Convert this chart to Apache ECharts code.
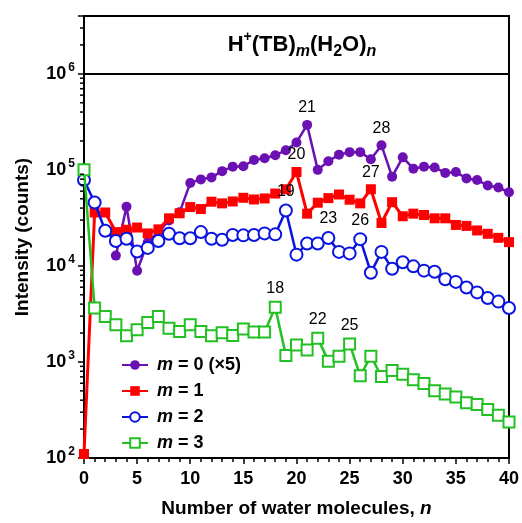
<!DOCTYPE html>
<html>
<head>
<meta charset="utf-8">
<script src="https://cdn.jsdelivr.net/npm/echarts@6.0.0/dist/echarts.min.js"></script>
<style>
  html, body { margin: 0; padding: 0; background: #fff; }
  #main { width: 522px; height: 523px; }
</style>
</head>
<body>
<div id="main"></div>
<script>
var nValues = [0, 1, 2, 3, 4, 5, 6, 7, 8, 9, 10, 11, 12, 13, 14, 15, 16, 17, 18, 19, 20,
  21, 22, 23, 24, 25, 26, 27, 28, 29, 30, 31, 32, 33, 34, 35, 36, 37, 38, 39, 40];

// m = 0, already multiplied by 5 (no points for n = 0..2)
var m0 = [null, null, null, 1.28e4, 4.14e4, 8.9e3, 1.76e4, 2.25e4, 2.97e4, 3.61e4,
  7.31e4, 7.96e4, 8.35e4, 9.7e4, 1.08e5, 1.09e5, 1.27e5, 1.32e5, 1.42e5, 1.6e5,
  1.93e5, 2.94e5, 1.0e5, 1.23e5, 1.44e5, 1.53e5, 1.53e5, 1.29e5, 1.8e5, 8.5e4,
  1.35e5, 1.03e5, 1.08e5, 1.06e5, 9.3e4, 9.5e4, 8.15e4, 7.85e4, 6.86e4, 6.54e4, 5.85e4];
var m1 = [110, 3.6e4, 3.6e4, 2.25e4, 2.38e4, 2.51e4, 2.18e4, 2.4e4, 3.13e4, 3.53e4,
  4.1e4, 3.91e4, 4.66e4, 4.48e4, 4.69e4, 5.12e4, 4.92e4, 5.04e4, 5.67e4, 6.28e4,
  9.5e4, 3.5e4, 4.55e4, 5.08e4, 5.54e4, 4.89e4, 4.48e4, 6.28e4, 2.8e4, 4.61e4,
  3.29e4, 3.5e4, 3.39e4, 3.13e4, 3.13e4, 2.67e4, 2.61e4, 2.34e4, 2.16e4, 1.96e4, 1.77e4];
var m2 = [7.85e4, 4.58e4, 2.32e4, 1.82e4, 1.92e4, 1.41e4, 1.54e4, 1.82e4, 2.16e4, 1.94e4,
  1.94e4, 2.25e4, 1.92e4, 1.87e4, 2.1e4, 2.08e4, 2.1e4, 2.18e4, 2.13e4, 3.77e4,
  1.31e4, 1.71e4, 1.71e4, 1.95e4, 1.4e4, 1.35e4, 1.9e4, 8.5e3, 1.4e4, 9.35e3,
  1.09e4, 9.9e3, 8.93e3, 8.7e3, 7.26e3, 6.82e3, 5.97e3, 5.3e3, 4.63e3, 4.25e3, 3.65e3];
var m3 = [1.0e5, 3.65e3, 2.97e3, 2.44e3, 1.87e3, 2.17e3, 2.58e3, 2.97e3, 2.25e3, 2.08e3,
  2.44e3, 2.08e3, 1.87e3, 2.02e3, 1.89e3, 2.2e3, 2.05e3, 2.05e3, 3.71e3, 1.17e3,
  1.5e3, 1.33e3, 1.77e3, 1.02e3, 1.15e3, 1.54e3, 718, 1.15e3, 706, 813,
  745, 653, 598, 502, 464, 431, 375, 360, 320, 278, 237];

// n values marked with a number above the point
var m0Notes = [21, 28];
var m1Notes = [20, 27];
var m2Notes = [19, 23, 26];
var m3Notes = [18, 22, 25];

var seriesNames = ['m0', 'm1', 'm2', 'm3'];
var legendLabels = {
  m0: '{i|m} = 0 (\u00d75)',
  m1: '{i|m} = 1',
  m2: '{i|m} = 2',
  m3: '{i|m} = 3'
};

// log minor tick positions on the y axis
var yMinorTicks = [200, 300, 400, 500, 600, 700, 800, 900,
  2000, 3000, 4000, 5000, 6000, 7000, 8000, 9000,
  20000, 30000, 40000, 50000, 60000, 70000, 80000, 90000,
  200000, 300000, 400000, 500000, 600000, 700000, 800000, 900000,
  2000000, 3000000];

var FONT = 'Liberation Sans, Arial, sans-serif';

function buildData(values, notes) {
  var out = [];
  for (var i = 0; i < nValues.length; i++) {
    if (values[i] == null) continue;
    var item = { value: [nValues[i], values[i]] };
    if (notes.indexOf(nValues[i]) >= 0) {
      item.label = { show: true, formatter: String(nValues[i]) };
    }
    out.push(item);
  }
  return out;
}

var noteLabel = {
  show: false,
  position: 'top',
  distance: 4,
  color: '#000',
  fontFamily: FONT,
  fontSize: 16
};

var chartDom = document.getElementById('main');
var myChart = echarts.init(chartDom, null, { renderer: 'canvas' });
var option;

option = {
  animation: false,
  backgroundColor: '#fff',
  title: {
    text: '{n|H}{sup|+}{n|(TB)}{sub|m}{n|(H}{sub2|2}{n|O)}{sub|n}',
    left: 297,
    top: 25,
    textAlign: 'center',
    textStyle: {
      fontFamily: FONT,
      rich: {
        n: { fontFamily: FONT, fontSize: 22, fontWeight: 'bold', color: '#000', lineHeight: 30 },
        sup: { fontFamily: FONT, fontSize: 14, fontWeight: 'bold', color: '#000', verticalAlign: 'top', lineHeight: 30 },
        sub: { fontFamily: FONT, fontSize: 16, fontWeight: 'bold', fontStyle: 'italic', color: '#000', verticalAlign: 'bottom', lineHeight: 30 },
        sub2: { fontFamily: FONT, fontSize: 16, fontWeight: 'bold', color: '#000', verticalAlign: 'bottom', lineHeight: 30 }
      }
    }
  },
  grid: {
    left: 84,
    right: 11,
    top: 16,
    bottom: 61,
    show: true,
    borderColor: '#000',
    borderWidth: 2
  },
  legend: {
    data: seriesNames,
    orient: 'vertical',
    left: 116,
    top: 351,
    itemWidth: 26,
    itemHeight: 12,
    itemGap: 8,
    formatter: function (name) { return legendLabels[name]; },
    textStyle: {
      fontFamily: FONT,
      fontSize: 18,
      fontWeight: 'bold',
      color: '#000',
      padding: [0, 0, 0, 4],
      rich: {
        i: { fontFamily: FONT, fontSize: 18, fontWeight: 'bold', fontStyle: 'italic', color: '#000' }
      }
    }
  },
  xAxis: {
    type: 'value',
    min: 0,
    max: 40,
    interval: 5,
    name: 'Number of water molecules, {i|n}',
    nameLocation: 'middle',
    nameGap: 41,
    nameTextStyle: {
      fontFamily: FONT,
      fontSize: 19,
      fontWeight: 'bold',
      color: '#000',
      rich: {
        i: { fontFamily: FONT, fontSize: 19, fontWeight: 'bold', fontStyle: 'italic', color: '#000' }
      }
    },
    axisLine: { show: true, lineStyle: { color: '#000', width: 2 } },
    axisTick: { show: true, length: 6, lineStyle: { color: '#000', width: 1.5 } },
    minorTick: { show: true, splitNumber: 5, length: 4, lineStyle: { color: '#000', width: 1.5 } },
    splitLine: { show: false },
    axisLabel: {
      margin: 12,
      fontFamily: FONT,
      fontSize: 18,
      fontWeight: 'bold',
      color: '#000'
    }
  },
  yAxis: {
    type: 'log',
    logBase: 10,
    min: 100,
    max: 4000000,
    name: 'Intensity (counts)',
    nameLocation: 'middle',
    nameGap: 52,
    nameTextStyle: {
      fontFamily: FONT,
      fontSize: 19,
      fontWeight: 'bold',
      color: '#000'
    },
    axisLine: { show: true, lineStyle: { color: '#000', width: 2 } },
    axisTick: { show: true, length: 6, lineStyle: { color: '#000', width: 1.5 } },
    splitLine: { show: false },
    axisLabel: {
      margin: 9,
      color: '#000',
      formatter: function (v) {
        var l = Math.log(v) / Math.LN10;
        var e = Math.round(l);
        if (Math.abs(l - e) > 1e-6) return '';
        return '{b|10}{s|' + e + '}';
      },
      rich: {
        b: { fontFamily: FONT, fontSize: 18, fontWeight: 'bold', color: '#000', lineHeight: 24 },
        s: { fontFamily: FONT, fontSize: 12, fontWeight: 'bold', color: '#000', verticalAlign: 'top', lineHeight: 24, padding: [0, 0, 0, 2] }
      }
    }
  },
  series: [
    {
      name: 'm0',
      type: 'line',
      data: buildData(m0, m0Notes),
      symbol: 'circle',
      symbolSize: 10,
      color: '#6B10B3',
      lineStyle: { width: 2.5, color: '#6B10B3' },
      itemStyle: { color: '#6B10B3' },
      label: noteLabel,
      markLine: {
        silent: true,
        symbol: ['none', 'none'],
        label: { show: false },
        lineStyle: { color: '#000', width: 2, type: 'solid' },
        data: [{ yAxis: 1000000 }]
      },
      z: 3
    },
    {
      name: 'm1',
      type: 'line',
      data: buildData(m1, m1Notes),
      symbol: 'rect',
      symbolSize: 10,
      color: '#FF0000',
      lineStyle: { width: 3, color: '#FF0000' },
      itemStyle: { color: '#FF0000' },
      label: noteLabel,
      z: 4
    },
    {
      name: 'm2',
      type: 'line',
      data: buildData(m2, m2Notes),
      symbol: 'emptyCircle',
      symbolSize: 12,
      color: '#0A14E0',
      lineStyle: { width: 2.5, color: '#0A14E0' },
      itemStyle: { color: '#0A14E0', borderWidth: 2, borderColor: '#0A14E0' },
      label: noteLabel,
      z: 5
    },
    {
      name: 'm3',
      type: 'line',
      data: buildData(m3, m3Notes),
      symbol: 'emptyRect',
      symbolSize: 11,
      color: '#22C022',
      lineStyle: { width: 2.5, color: '#22C022' },
      itemStyle: { color: '#22C022', borderWidth: 2, borderColor: '#22C022' },
      label: noteLabel,
      z: 6
    },
    {
      name: 'yMinor',
      type: 'custom',
      silent: true,
      clip: false,
      data: yMinorTicks.map(function (v) { return [0, v]; }),
      renderItem: function (params, api) {
        var p = api.coord([0, api.value(1)]);
        return {
          type: 'line',
          shape: { x1: p[0] - 4, y1: p[1], x2: p[0], y2: p[1] },
          style: { stroke: '#000', lineWidth: 1.5 }
        };
      },
      z: 10
    }
  ]
};

option && myChart.setOption(option);
</script>
</body>
</html>
